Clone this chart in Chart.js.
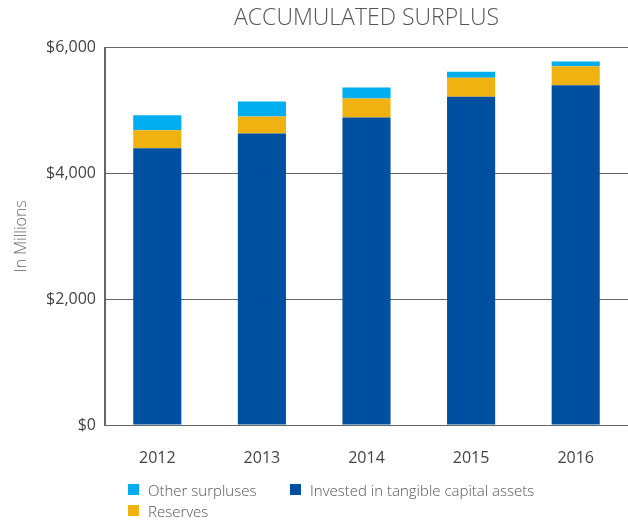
<!DOCTYPE html>
<html>
<head>
<meta charset="utf-8">
<script src="https://cdn.jsdelivr.net/npm/chart.js@4/dist/chart.umd.min.js"></script>
<style>
  html, body { margin: 0; padding: 0; background: #fff; }
  #wrap { position: relative; width: 628px; height: 521px; }
  #legend {
    position: absolute; left: 128px; top: 479px;
    display: grid; grid-template-columns: 162px auto; grid-auto-rows: 21px;
    font-family: "Open Sans", sans-serif; font-weight: 300; font-size: 15px; color: #555;
  }
  #legend .item { display: flex; align-items: center; white-space: nowrap; }
  #legend .box { width: 11px; height: 11px; margin-right: 9px; }
</style>
</head>
<body>
<div id="wrap">
  <canvas id="myChart" width="628" height="521"></canvas>
  <div id="legend"></div>
</div>
<script>
// chart data
const years = ['2012', '2013', '2014', '2015', '2016'];
const invested = [4400, 4635, 4890, 5220, 5400];
const reserves = [286, 270, 300, 302, 302];
const otherSurpluses = [238, 238, 175, 95, 79];
const yTicks = [0, 2000, 4000, 6000];
// order the legend reads in
const legendOrder = ['Other surpluses', 'Invested in tangible capital assets', 'Reserves'];

const FONT = '"Open Sans", sans-serif';

// builds the html legend from chart.js legend items
const htmlLegend = {
  id: 'htmlLegend',
  afterUpdate(chart) {
    const box = document.getElementById('legend');
    box.innerHTML = '';
    const items = chart.options.plugins.legend.labels.generateLabels(chart);
    items.sort((a, b) => legendOrder.indexOf(a.text) - legendOrder.indexOf(b.text));
    items.forEach(item => {
      const el = document.createElement('div');
      el.className = 'item';
      const sw = document.createElement('span');
      sw.className = 'box';
      sw.style.background = item.fillStyle;
      const txt = document.createElement('span');
      txt.textContent = item.text;
      el.appendChild(sw);
      el.appendChild(txt);
      box.appendChild(el);
    });
  }
};

const ctx = document.getElementById('myChart').getContext('2d');
const myChart = new Chart(ctx, {
  type: 'bar',
  data: {
    labels: years,
    datasets: [
      { label: 'Invested in tangible capital assets', data: invested, backgroundColor: '#0050a2' },
      { label: 'Reserves', data: reserves, backgroundColor: '#efb211' },
      { label: 'Other surpluses', data: otherSurpluses, backgroundColor: '#00aeef' }
    ]
  },
  options: {
    responsive: false,
    animation: false,
    layout: { padding: 0 },
    datasets: { bar: { barPercentage: 0.46, categoryPercentage: 1, borderWidth: 0 } },
    plugins: {
      legend: { display: false },
      tooltip: { enabled: false },
      title: {
        display: true,
        text: 'ACCUMULATED SURPLUS',
        fullSize: false,
        color: '#555',
        font: { family: FONT, size: 23, weight: '300' },
        padding: { top: 5, bottom: 15 }
      }
    },
    scales: {
      x: {
        stacked: true,
        grid: { display: false },
        border: { display: true, color: '#666', width: 1 },
        ticks: { color: '#444', padding: 16, font: { family: FONT, size: 16 } },
        afterFit(scale) { scale.height = 96; }
      },
      y: {
        stacked: true,
        min: 0,
        max: 6000,
        afterBuildTicks(scale) { scale.ticks = yTicks.map(v => ({ value: v })); },
        grid: { color: '#666', drawTicks: false },
        border: { display: true, color: '#666', width: 2 },
        ticks: {
          color: '#444', padding: 9,
          font: { family: FONT, size: 16 },
          callback: v => '$' + v.toLocaleString('en-US')
        },
        title: {
          display: true,
          text: 'In Millions',
          color: '#666',
          font: { family: FONT, size: 16, weight: '300' },
          padding: { top: 12, bottom: 0 }
        },
        afterFit(scale) { scale.width = 105; }
      }
    }
  },
  plugins: [htmlLegend]
});
</script>
</body>
</html>
